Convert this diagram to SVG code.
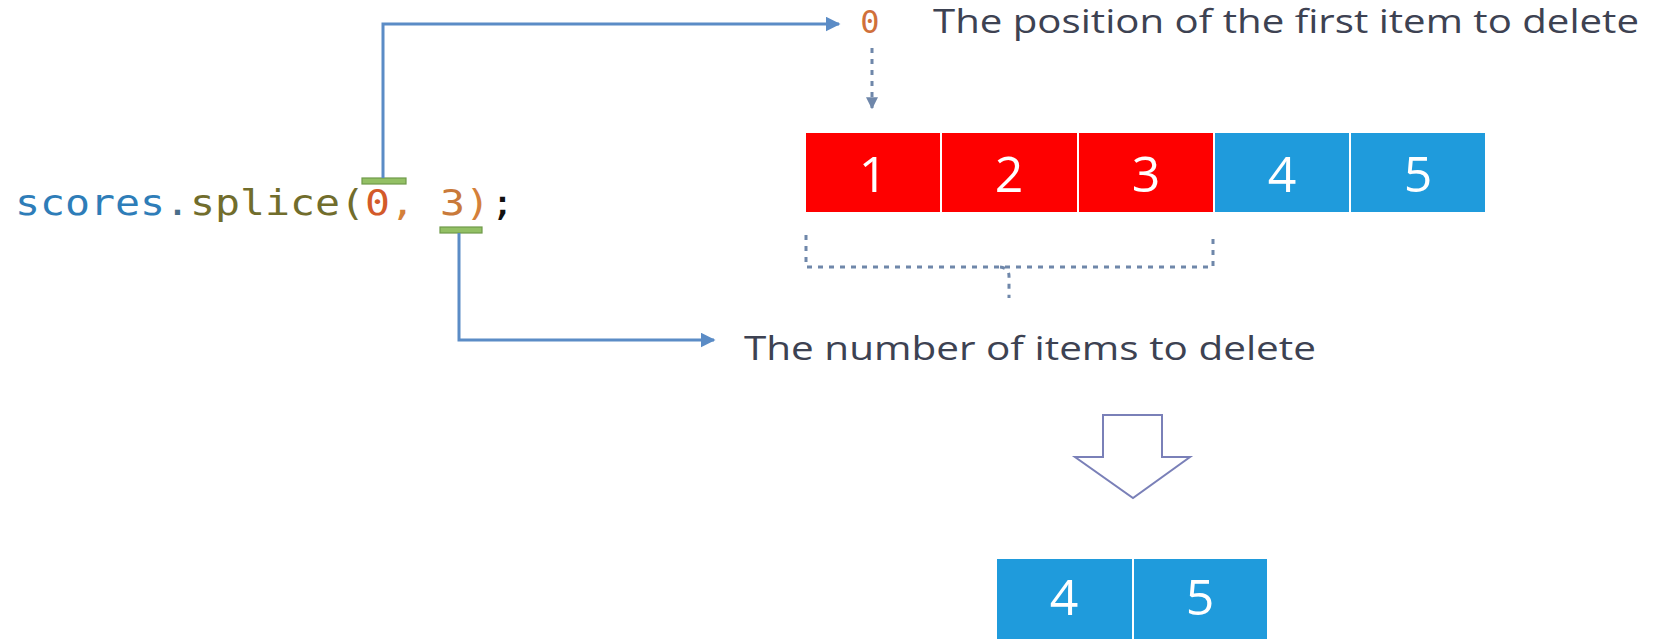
<svg xmlns="http://www.w3.org/2000/svg" width="1667" height="639" viewBox="0 0 1667 639">
  <style>
    .code { font-family: "DejaVu Sans Mono", "Liberation Mono", monospace; }
    .label { font-family: "Open Sans", "Noto Sans", "Liberation Sans", sans-serif; fill: #3d4252; font-size: 32px; }
    .num { font-family: "Open Sans", "Noto Sans", "Liberation Sans", sans-serif; fill: #ffffff; font-size: 50px; text-anchor: middle; }
    .red { fill: #fe0000; stroke: #ffffff; stroke-width: 2; }
    .blue { fill: #1f9bdc; stroke: #ffffff; stroke-width: 2; }
    .marker { fill: #93c065; stroke: #6f9a4a; stroke-width: 1.2; }
    .link { fill: none; stroke: #5b8cc6; stroke-width: 3; }
    .dots { fill: none; stroke: #6f87aa; stroke-width: 3; stroke-dasharray: 5 6; }
  </style>
  <defs>
    <marker id="arrow" viewBox="0 0 10 10" refX="9" refY="5" markerWidth="5" markerHeight="5" orient="auto" markerUnits="strokeWidth">
      <path d="M0,0 L10,5 L0,10 Z" fill="#5b8cc6"/>
    </marker>
    <marker id="arrowDot" viewBox="0 0 10 10" refX="9" refY="5" markerWidth="4" markerHeight="4" orient="auto" markerUnits="strokeWidth">
      <path d="M0,0 L10,5 L0,10 Z" fill="#6f87aa"/>
    </marker>
  </defs>

  <rect width="1667" height="639" fill="#ffffff"/>

  <!-- source line -->
  <g id="code">
    <text class="code" x="15" y="215" font-size="35" textLength="500" lengthAdjust="spacingAndGlyphs"><tspan fill="#2e7db8">scores</tspan><tspan fill="#4a6e8a">.</tspan><tspan fill="#716d2c">splice(</tspan><tspan fill="#d35a2a">0</tspan><tspan fill="#d4803a">, </tspan><tspan fill="#c97a3a">3</tspan><tspan fill="#d4803a">)</tspan><tspan fill="#111111">;</tspan></text>
    <rect class="marker" x="362" y="178" width="44" height="6"/>
    <rect class="marker" x="440" y="227" width="42" height="6"/>
  </g>

  <!-- start index label -->
  <g id="start-label">
    <text class="code" x="870" y="33" font-size="32" fill="#d0703a" text-anchor="middle">0</text>
    <text class="label" x="933" y="33" textLength="706" lengthAdjust="spacingAndGlyphs">The position of the first item to delete</text>
  </g>

  <!-- delete count label -->
  <g id="count-label">
    <text class="label" x="744" y="360" textLength="572" lengthAdjust="spacingAndGlyphs">The number of items to delete</text>
  </g>

  <!-- original array -->
  <g id="array-before">
    <rect class="red" x="805" y="132" width="136" height="81"/>
    <rect class="red" x="941" y="132" width="137" height="81"/>
    <rect class="red" x="1078" y="132" width="136" height="81"/>
    <rect class="blue" x="1214" y="132" width="136" height="81"/>
    <rect class="blue" x="1350" y="132" width="136" height="81"/>
    <text class="num" x="873" y="192">1</text>
    <text class="num" x="1009" y="192">2</text>
    <text class="num" x="1146" y="192">3</text>
    <text class="num" x="1282" y="192">4</text>
    <text class="num" x="1418" y="192">5</text>
  </g>

  <!-- result arrow -->
  <g id="result-arrow">
    <polygon points="1103,415 1162,415 1162,457 1190,457 1133,498 1075,457 1103,457" fill="#ffffff" stroke="#7a80b8" stroke-width="2"/>
  </g>

  <!-- resulting array -->
  <g id="array-after">
    <rect class="blue" x="996" y="558" width="137" height="84"/>
    <rect class="blue" x="1133" y="558" width="135" height="84"/>
    <text class="num" x="1064" y="615">4</text>
    <text class="num" x="1200" y="615">5</text>
  </g>

  <!-- connectors -->
  <g id="connectors">
    <path class="link" d="M383,178 V24 H839" marker-end="url(#arrow)"/>
    <path class="link" d="M459,233 V340 H714" marker-end="url(#arrow)"/>
    <path class="dots" d="M872,48 V108" marker-end="url(#arrowDot)"/>
    <path class="dots" d="M806,235 V267 H1213 V235"/>
    <path class="dots" d="M1000,267 Q1009,268 1009,276 V298"/>
  </g>
</svg>
